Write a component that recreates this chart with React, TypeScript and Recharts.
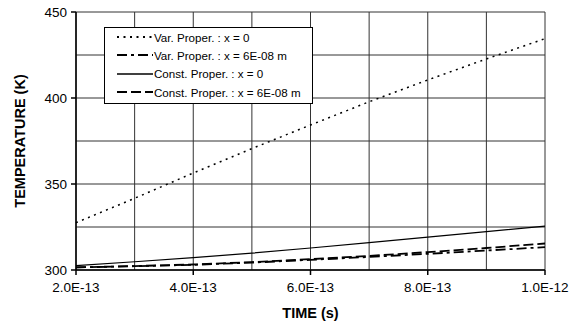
import React from 'react';
import { LineChart, Line, XAxis, YAxis, CartesianGrid, Legend } from 'recharts';

const times = [2e-13, 3e-13, 4e-13, 5e-13, 6e-13, 7e-13, 8e-13, 9e-13, 1e-12];
const varProperX0 = [327.5, 341.7, 356.4, 370.6, 384.3, 397.8, 410.5, 422.7, 434.5];
const varProperX6 = [301.5, 302.2, 303.0, 304.3, 305.9, 307.6, 309.4, 311.3, 313.3];
const constProperX0 = [302.5, 304.8, 307.2, 309.8, 312.8, 315.9, 319.1, 322.3, 325.5];
const constProperX6 = [301.5, 302.3, 303.2, 304.6, 306.3, 308.2, 310.4, 312.8, 315.4];

const xTicks = [2e-13, 3e-13, 4e-13, 5e-13, 6e-13, 7e-13, 8e-13, 9e-13, 1e-12];
const xLabeled = [2e-13, 4e-13, 6e-13, 8e-13, 1e-12];
const yTicks = [300, 325, 350, 375, 400, 425, 450];
const yLabeled = [300, 350, 400, 450];

const seriesNames = [
  'Var. Proper. : x = 0',
  'Var. Proper. : x = 6E-08 m',
  'Const. Proper. : x = 0',
  'Const. Proper. : x = 6E-08 m',
];

const data = times.map((t, i) => ({
  t,
  a: varProperX0[i],
  b: varProperX6[i],
  c: constProperX0[i],
  d: constProperX6[i],
}));

const FONT = '"Liberation Sans", Arial, Helvetica, sans-serif';

const styles = [
  { key: 'a', dash: '2 4.5', width: 1.5 },
  { key: 'b', dash: '10 4 3 4', width: 1.8 },
  { key: 'c', dash: undefined as string | undefined, width: 1.2 },
  { key: 'd', dash: '10 4', width: 1.8 },
];

const isIn = (v: number, arr: number[]) => arr.some((a) => Math.abs(a - v) < Math.abs(v) * 1e-6 + 1e-30);

const XTick = (props: any) => {
  const { x, y, payload } = props;
  const v = payload.value as number;
  if (!isIn(v, xLabeled)) return null;
  const label = v.toExponential(1).toUpperCase();
  return (
    <g>
      <line x1={x} x2={x} y1={y} y2={y + 5} stroke="#000" strokeWidth={1.5} />
      <text x={x} y={y + 22} textAnchor="middle" fontFamily={FONT} fontSize={13.5} fill="#000">
        {label}
      </text>
    </g>
  );
};

const YTick = (props: any) => {
  const { x, y, payload } = props;
  const v = payload.value as number;
  if (!isIn(v, yLabeled)) return null;
  return (
    <g>
      <line x1={x - 5} x2={x} y1={y} y2={y} stroke="#000" strokeWidth={1.5} />
      <text x={x - 9} y={y + 5} textAnchor="end" fontFamily={FONT} fontSize={13.5} fill="#000">
        {String(v)}
      </text>
    </g>
  );
};

const LegendBox = () => (
  <div
    style={{
      width: 207,
      height: 75,
      border: '1px solid #000',
      background: '#fff',
      fontFamily: FONT,
      fontSize: 11.6,
      color: '#000',
      boxSizing: 'content-box',
    }}
  >
    {seriesNames.map((name, i) => (
      <div key={name} style={{ display: 'flex', alignItems: 'center', height: 18.3, whiteSpace: 'nowrap' }}>
        <svg width={49} height={18} style={{ display: 'block' }}>
          <line
            x1={12}
            x2={48}
            y1={9}
            y2={9}
            stroke="#000"
            strokeWidth={styles[i].width + 0.3}
            strokeDasharray={styles[i].dash}
          />
        </svg>
        <span>{name}</span>
      </div>
    ))}
  </div>
);

export default function App() {
  return (
    <div style={{ position: 'absolute', left: 0, top: 0, width: 584, height: 326, background: '#fff' }}>
      <LineChart width={584} height={326} data={data} margin={{ top: 12, right: 39, bottom: 0, left: 0 }}>
        <CartesianGrid stroke="#333" strokeWidth={1} horizontal vertical />
        <XAxis
          dataKey="t"
          type="number"
          domain={[2e-13, 1e-12]}
          ticks={xTicks}
          interval={0}
          height={56}
          tick={<XTick />}
          tickLine={false}
          tickSize={0}
          tickMargin={0}
          axisLine={{ stroke: '#000', strokeWidth: 1.5 }}
          label={{
            content: (p: any) => {
              const vb = p.viewBox || {};
              return (
                <text
                  x={vb.x + vb.width / 2}
                  y={318}
                  textAnchor="middle"
                  fontFamily={FONT}
                  fontWeight="bold"
                  fontSize={14.5}
                  fill="#000"
                >
                  TIME (s)
                </text>
              );
            },
          }}
        />
        <YAxis
          type="number"
          domain={[300, 450]}
          ticks={yTicks}
          interval={0}
          width={76}
          tick={<YTick />}
          tickLine={false}
          tickSize={0}
          tickMargin={0}
          axisLine={{ stroke: '#000', strokeWidth: 1.5 }}
          label={{
            content: (p: any) => {
              const vb = p.viewBox || {};
              const cy = vb.y + vb.height / 2;
              return (
                <text
                  x={25}
                  y={cy}
                  transform={`rotate(-90 25 ${cy})`}
                  textAnchor="middle"
                  fontFamily={FONT}
                  fontWeight="bold"
                  fontSize={14.5}
                  fill="#000"
                >
                  TEMPERATURE (K)
                </text>
              );
            },
          }}
        />
        <Legend
          layout="vertical"
          align="center"
          verticalAlign="middle"
          content={<LegendBox />}
          wrapperStyle={{ left: 104, top: 27, width: 209, height: 77 }}
        />
        {styles.map((s, i) => (
          <Line
            key={s.key}
            dataKey={s.key}
            name={seriesNames[i]}
            type="linear"
            stroke="#000"
            strokeWidth={s.width}
            strokeDasharray={s.dash}
            dot={false}
            activeDot={false}
            isAnimationActive={false}
          />
        ))}
      </LineChart>
    </div>
  );
}
